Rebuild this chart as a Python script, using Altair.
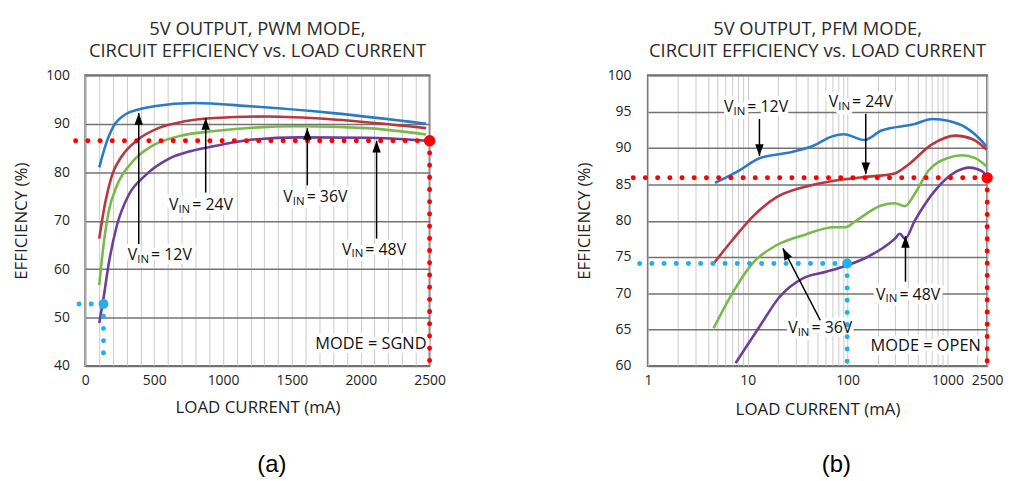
import altair as alt
import pandas as pd

SERIES = ["12V", "24V", "36V", "48V"]
COLORS = ["#2b7bc4", "#b9373f", "#79b94a", "#6b3e9c"]
FONT = "Open Sans"

# ---------------- Panel (a): PWM mode, linear load current ----------------
a12_x = [101, 145, 205, 289, 380, 500, 790, 1200, 1800, 2475]
a12_y = [81.0, 85.4, 89.5, 91.9, 92.9, 93.6, 94.3, 93.6, 92.2, 90.0]
a24_x = [101, 145, 193, 265, 385, 530, 722, 939, 1320, 1800, 2475]
a24_y = [66.3, 73.8, 79.3, 83.3, 86.8, 89.1, 90.5, 91.2, 91.5, 90.9, 89.1]
a36_x = [101, 132, 168, 229, 337, 482, 674, 939, 1560, 2043, 2475]
a36_y = [56.7, 64.9, 71.7, 77.2, 82.0, 85.4, 87.4, 88.5, 89.5, 89.1, 87.8]
a48_x = [101, 132, 168, 229, 313, 434, 602, 771, 939, 1200, 1560, 2043, 2475]
a48_y = [48.9, 54.0, 60.8, 69.0, 75.2, 79.3, 82.7, 84.4, 85.4, 86.7, 87.2, 87.1, 86.5]

a_xticks = list(range(0, 2501, 100))
a_xlabels = [0, 500, 1000, 1500, 2000, 2500]
a_yticks = [40, 50, 60, 70, 80, 90, 100]

# annotation arrows: tail -> tip
a_arrow_x = [388, 874, 1612, 2115]
a_arrow_y0 = [65.2, 75.8, 77.3, 66.3]
a_arrow_y1 = [92.2, 91.2, 89.1, 86.5]
a_arrow_ang = [0, 0, 0, 0]
a_label_x = [308, 607, 1438, 1864]
a_label_y = [62.9, 73.2, 74.8, 64.0]
a_label_t = ["= 12V", "= 24V", "= 36V", "= 48V"]
a_mode = ["MODE = SGND"]
a_mode_x = [2478]
a_mode_y = [44.5]

# dotted guide lines (start at the marked point)
a_red_pt = (2500, 86.5)
a_red_left = -116
a_red_bottom = 40
a_blue_pt = (132, 52.8)
a_blue_left = -51
a_blue_bottom = 41

# ---------------- Panel (b): PFM mode, log load current ----------------
b12_x = [4.7, 8.2, 13.1, 24.4, 45.5, 70, 92, 147, 218, 472, 700, 1040, 1530, 2260, 2460]
b12_y = [85.2, 86.9, 88.6, 89.3, 90.3, 91.6, 91.9, 91.1, 92.4, 93.3, 94.0, 93.7, 92.8, 90.8, 90.2]
b24_x = [4.55, 7.0, 11.1, 19.3, 36, 72.8, 147, 296, 405, 700, 1210, 1790, 2460]
b24_y = [74.1, 77.3, 80.5, 83.2, 84.6, 85.5, 86.0, 86.5, 87.7, 90.5, 91.7, 91.2, 89.8]
b36_x = [4.55, 7.0, 11.1, 19.3, 36, 72.8, 95.6, 116, 217, 296, 375, 471, 647, 1000, 1400, 1900, 2460]
b36_y = [65.2, 70.0, 74.1, 76.6, 78.0, 79.1, 79.1, 79.8, 82.1, 82.4, 82.0, 83.7, 86.9, 88.6, 89.0, 88.6, 87.5]
b48_x = [7.55, 13.1, 20.8, 36, 62.3, 91.7, 158, 296, 334, 375, 471, 757, 1210, 1650, 2280, 2460]
b48_y = [60.4, 65.4, 69.5, 72.1, 73.0, 73.7, 75.0, 77.5, 78.2, 77.5, 80.0, 84.2, 86.7, 87.3, 86.7, 85.8]

b_xticks = [m * d for d in (1, 10, 100) for m in range(1, 10)] + [1000, 2000, 2500]
b_xlabels = [1, 10, 100, 1000, 2500]
b_yticks = [60, 65, 70, 75, 80, 85, 90, 95, 100]

b_arrow_x0 = [13.1, 152, 53.3, 380]
b_arrow_x1 = [13.1, 152, 22.5, 380]
b_arrow_y0 = [94.0, 94.7, 66.3, 71.6]
b_arrow_y1 = [88.9, 86.4, 76.2, 77.9]
b_arrow_ang = [180, 180, 333, 0]
b_label_x = [5.79, 64.7, 25.4, 193]
b_label_y = [95.6, 96.3, 65.2, 69.8]
b_label_t = ["= 12V", "= 24V", "= 36V", "= 48V"]
b_mode = ["MODE = OPEN"]
b_mode_x = [2160]
b_mode_y = [62.7]

b_red_pt = (2500, 85.9)
b_red_left = 0.61
b_red_bottom = 60
b_blue_pt = (99, 74.1)
b_blue_left = 0.70
b_blue_bottom = 60

ARROW_UP = "M0,0L-0.36,1L0.36,1Z"


def curves_df(xs, ys):
    rows = []
    for s, x, y in zip(SERIES, xs, ys):
        for xi, yi in zip(x, y):
            rows.append({"x": xi, "y": yi, "s": s})
    return pd.DataFrame(rows)


def make_panel(title, width, curves, xscale, yscale, xaxis, yaxis,
               arrows, labels, mode, red, blue, caption, caption_x):
    X = lambda f="x": alt.X(f"{f}:Q", scale=xscale, axis=xaxis)
    Y = lambda f="y": alt.Y(f"{f}:Q", scale=yscale, axis=yaxis)

    layers = []
    lab = pd.DataFrame(labels)
    parts = [("V", 0, 0, 16), ("IN", 9.6, 4.5, 11.5), (None, 23.5, 0, 16)]
    # halos (white boxes behind labels)
    for txt, dx, dy, fs in parts:
        enc = dict(x=X(), y=Y(), text=alt.value(txt) if txt else alt.Text("t:N"))
        layers.append(alt.Chart(lab).mark_text(
            align="left", baseline="middle", dx=dx, dy=dy, font=FONT, fontSize=fs,
            color="white", stroke="white", strokeWidth=8, strokeJoin="round").encode(**enc))
    md = pd.DataFrame(mode)
    layers.append(alt.Chart(md).mark_text(
        align="right", baseline="middle", font=FONT, fontSize=16.5,
        color="white", stroke="white", strokeWidth=8, strokeJoin="round").encode(
        x=X(), y=Y(), text="t:N"))

    # curves
    layers.append(alt.Chart(curves).mark_line(strokeWidth=2.6, interpolate="monotone").encode(
        x=X(), y=Y(),
        color=alt.Color("s:N", scale=alt.Scale(domain=SERIES, range=COLORS), legend=None),
        detail="s:N"))

    # dotted guides
    for col, pt, left, bottom, big in (("#ff0000", red[0], red[1], red[2], 130),
                                        ("#22b0ea", blue[0], blue[1], blue[2], 100)):
        g = pd.DataFrame({"x": [pt[0], pt[0]], "y": [pt[1], pt[1]],
                          "x2": [left, pt[0]], "y2": [pt[1], bottom]})
        layers.append(alt.Chart(g).mark_rule(
            color=col, strokeWidth=5, strokeDash=[0.1, 12.2], strokeCap="round").encode(
            x=X(), y=Y(), x2="x2:Q", y2="y2:Q"))
        p = pd.DataFrame({"x": [pt[0]], "y": [pt[1]]})
        layers.append(alt.Chart(p).mark_circle(color=col, opacity=1, size=big).encode(x=X(), y=Y()))

    # arrows
    ar = pd.DataFrame(arrows)
    layers.append(alt.Chart(ar).mark_rule(color="black", strokeWidth=1.5).encode(
        x=X("x0"), y=Y("y0"), x2="x1:Q", y2="y1:Q"))
    layers.append(alt.Chart(ar).mark_point(
        shape=ARROW_UP, filled=True, color="black", opacity=1, size=560).encode(
        x=X("x1"), y=Y("y1"), angle=alt.Angle("a:Q", scale=None)))

    # label text
    for txt, dx, dy, fs in parts:
        enc = dict(x=X(), y=Y(), text=alt.value(txt) if txt else alt.Text("t:N"))
        layers.append(alt.Chart(lab).mark_text(
            align="left", baseline="middle", dx=dx, dy=dy, font=FONT, fontSize=fs,
            color="#111").encode(**enc))
    layers.append(alt.Chart(md).mark_text(
        align="right", baseline="middle", font=FONT, fontSize=16.5, color="#111").encode(
        x=X(), y=Y(), text="t:N"))

    # caption
    layers.append(alt.Chart(pd.DataFrame({"t": [caption]})).mark_text(
        font="Liberation Sans", fontSize=24, color="black", align="center", baseline="middle").encode(
        x=alt.value(caption_x), y=alt.value(393), text="t:N"))

    return alt.layer(*layers).properties(
        width=width, height=293,
        title=alt.Title(text=title, font=FONT, fontSize=18.5, fontWeight=500,
                        lineHeight=22, offset=8, color="#2a2a2a", anchor="middle"))


common_axis = dict(ticks=False, domain=False, labelFont=FONT, labelFontSize=14, labelColor="#222",
                   titleFont=FONT, titleFontSize=17, titleFontWeight="normal", titleColor="#222",
                   labelOverlap=False, labelFlush=False, format="d")

a_xaxis = alt.Axis(values=a_xticks, title="LOAD CURRENT (mA)",
                   labelExpr="indexof(%s, datum.value) >= 0 ? datum.label : ''" % str(a_xlabels),
                   grid=True, gridColor="#c9c9c9", gridWidth=1, labelPadding=8,
                   titleY=42, titleBaseline="middle", **common_axis)
a_yaxis = alt.Axis(values=a_yticks, title="EFFICIENCY (%)", grid=True, gridColor="#737373",
                   gridWidth=1.5, labelPadding=16, titleX=-64, titleY=146.5, titleAngle=-90,
                   titleBaseline="middle", **common_axis)
b_xaxis = alt.Axis(values=b_xticks, title="LOAD CURRENT (mA)",
                   labelExpr="indexof(%s, datum.value) >= 0 ? datum.label : ''" % str(b_xlabels),
                   grid=True, gridColor="#c9c9c9", gridWidth=1, labelPadding=8,
                   titleY=44, titleBaseline="middle", **common_axis)
b_yaxis = alt.Axis(values=b_yticks, title="EFFICIENCY (%)", grid=True, gridColor="#737373",
                   gridWidth=1.5, labelPadding=17, titleX=-64, titleY=146.5, titleAngle=-90,
                   titleBaseline="middle", **common_axis)

panel_a = make_panel(
    ["5V OUTPUT, PWM MODE,", "CIRCUIT EFFICIENCY vs. LOAD CURRENT"], 347,
    curves_df([a12_x, a24_x, a36_x, a48_x], [a12_y, a24_y, a36_y, a48_y]),
    alt.Scale(domain=[0, 2500], nice=False, zero=False),
    alt.Scale(domain=[40, 100], nice=False, zero=False),
    a_xaxis, a_yaxis,
    {"x0": a_arrow_x, "x1": a_arrow_x, "y0": a_arrow_y0, "y1": a_arrow_y1, "a": a_arrow_ang},
    {"x": a_label_x, "y": a_label_y, "t": a_label_t},
    {"x": a_mode_x, "y": a_mode_y, "t": a_mode},
    (a_red_pt, a_red_left, a_red_bottom), (a_blue_pt, a_blue_left, a_blue_bottom), "(a)", 188)

panel_b = make_panel(
    ["5V OUTPUT, PFM MODE,", "CIRCUIT EFFICIENCY vs. LOAD CURRENT"], 342,
    curves_df([b12_x, b24_x, b36_x, b48_x], [b12_y, b24_y, b36_y, b48_y]),
    alt.Scale(type="log", domain=[1, 2500], nice=False),
    alt.Scale(domain=[60, 100], nice=False, zero=False),
    b_xaxis, b_yaxis,
    {"x0": b_arrow_x0, "x1": b_arrow_x1, "y0": b_arrow_y0, "y1": b_arrow_y1, "a": b_arrow_ang},
    {"x": b_label_x, "y": b_label_y, "t": b_label_t},
    {"x": b_mode_x, "y": b_mode_y, "t": b_mode},
    (b_red_pt, b_red_left, b_red_bottom), (b_blue_pt, b_blue_left, b_blue_bottom), "(b)", 190)

chart = alt.hconcat(panel_a, panel_b, spacing=220, bounds="flush").properties(
    padding={"left": 12, "top": 17, "right": 5, "bottom": 5},
    background="white",
).configure_view(stroke="#6e6e6e", strokeWidth=2)

chart.save("out.html", embed_options={"renderer": "svg", "actions": False})
